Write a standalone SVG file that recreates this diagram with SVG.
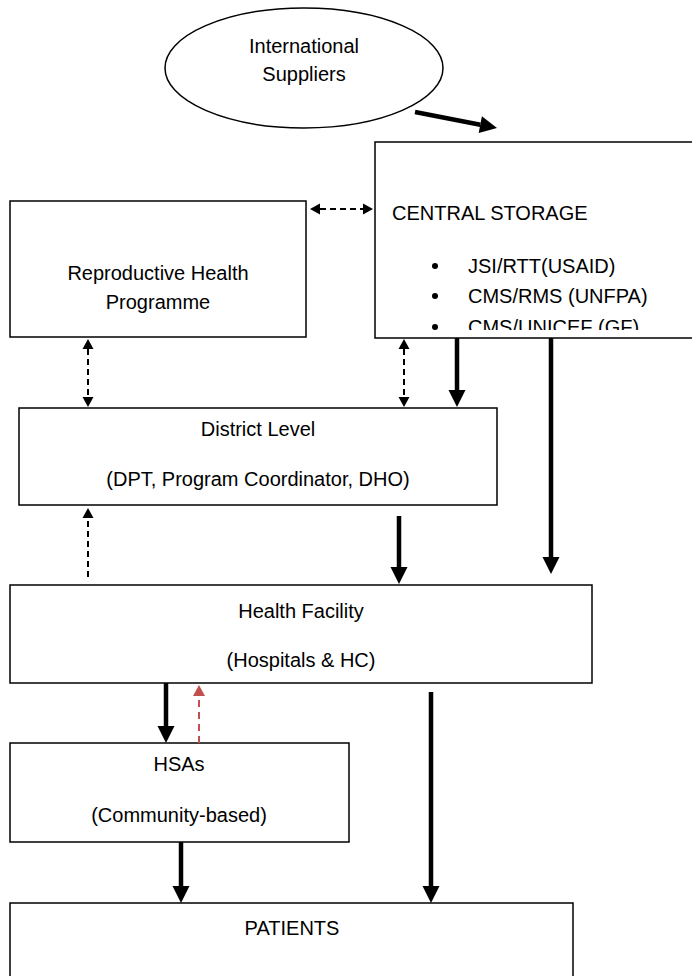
<svg xmlns="http://www.w3.org/2000/svg" width="692" height="976" viewBox="0 0 692 976">
  <style>
    .box { fill: #ffffff; stroke: #000000; stroke-width: 1.5; }
    .lbl { font-family: "Liberation Sans", Arial, sans-serif; font-size: 20px; fill: #000000; text-anchor: middle; }
    .lbl-l { font-family: "Liberation Sans", Arial, sans-serif; font-size: 20px; fill: #000000; }
    .flow { stroke: #000000; stroke-width: 4.5; fill: none; }
    .info { stroke: #000000; stroke-width: 2; stroke-dasharray: 6 4; fill: none; }
    .report { stroke: #c0504d; stroke-width: 2; stroke-dasharray: 7 5; fill: none; }
  </style>
  <defs>
    <!-- arrowheads attach at their base; lines stop where the head begins -->
    <marker id="headSolid" markerUnits="userSpaceOnUse" markerWidth="18" markerHeight="18" refX="0" refY="8.5" orient="auto" overflow="visible">
      <path d="M0,0 L17,8.5 L0,17 Z" fill="#000000"/>
    </marker>
    <marker id="headDash" markerUnits="userSpaceOnUse" markerWidth="11" markerHeight="12" refX="0" refY="5.5" orient="auto-start-reverse" overflow="visible">
      <path d="M0,0 L10,5.5 L0,11 Z" fill="#000000"/>
    </marker>
    <marker id="headRed" markerUnits="userSpaceOnUse" markerWidth="12" markerHeight="13" refX="0" refY="6" orient="auto" overflow="visible">
      <path d="M0,0 L11,6 L0,12 Z" fill="#c0504d"/>
    </marker>
    <clipPath id="storageClip">
      <rect x="375" y="142" width="330" height="188"/>
    </clipPath>
  </defs>

  <!-- nodes -->
  <g id="international-suppliers">
    <ellipse cx="304" cy="68" rx="139" ry="60" fill="#ffffff" stroke="#000000" stroke-width="1.5"/>
    <text class="lbl" x="304" y="53">International</text>
    <text class="lbl" x="304" y="81">Suppliers</text>
  </g>

  <g id="central-storage">
    <rect class="box" x="375" y="142" width="330" height="196"/>
    <text class="lbl-l" x="392" y="220">CENTRAL STORAGE</text>
    <g clip-path="url(#storageClip)">
      <circle cx="435" cy="266" r="3"/>
      <text class="lbl-l" x="468" y="273">JSI/RTT(USAID)</text>
      <circle cx="435" cy="296" r="3"/>
      <text class="lbl-l" x="468" y="303">CMS/RMS (UNFPA)</text>
      <circle cx="435" cy="327" r="3"/>
      <text class="lbl-l" x="468" y="334">CMS/UNICEF (GF)</text>
    </g>
  </g>

  <g id="reproductive-health">
    <rect class="box" x="10" y="201" width="296" height="136"/>
    <text class="lbl" x="158" y="280">Reproductive Health</text>
    <text class="lbl" x="158" y="309">Programme</text>
  </g>

  <g id="district-level">
    <rect class="box" x="19" y="408" width="478" height="97"/>
    <text class="lbl" x="258" y="436">District Level</text>
    <text class="lbl" x="258" y="486">(DPT, Program Coordinator, DHO)</text>
  </g>

  <g id="health-facility">
    <rect class="box" x="10" y="585" width="582" height="98"/>
    <text class="lbl" x="301" y="618">Health Facility</text>
    <text class="lbl" x="301" y="667">(Hospitals &amp; HC)</text>
  </g>

  <g id="hsas">
    <rect class="box" x="10" y="743" width="339" height="99"/>
    <text class="lbl" x="179" y="771">HSAs</text>
    <text class="lbl" x="179" y="822">(Community-based)</text>
  </g>

  <g id="patients">
    <rect class="box" x="10" y="903" width="563" height="90"/>
    <text class="lbl" x="292" y="935">PATIENTS</text>
  </g>

  <!-- connectors -->
  <g id="connectors">
    <!-- commodity flow -->
    <line class="flow" x1="415" y1="112" x2="480.3" y2="124.7" marker-end="url(#headSolid)"/>
    <line class="flow" x1="457" y1="338" x2="457" y2="390" marker-end="url(#headSolid)"/>
    <line class="flow" x1="551" y1="338" x2="551" y2="557" marker-end="url(#headSolid)"/>
    <line class="flow" x1="399" y1="516" x2="399" y2="567" marker-end="url(#headSolid)"/>
    <line class="flow" x1="166" y1="683" x2="166" y2="726" marker-end="url(#headSolid)"/>
    <line class="flow" x1="181" y1="842" x2="181" y2="886" marker-end="url(#headSolid)"/>
    <line class="flow" x1="431" y1="692" x2="431" y2="886" marker-end="url(#headSolid)"/>

    <!-- information exchange -->
    <line class="info" x1="320" y1="209" x2="363" y2="209" marker-start="url(#headDash)" marker-end="url(#headDash)"/>
    <line class="info" x1="88" y1="349" x2="88" y2="397" marker-start="url(#headDash)" marker-end="url(#headDash)"/>
    <line class="info" x1="404" y1="349" x2="404" y2="397" marker-start="url(#headDash)" marker-end="url(#headDash)"/>
    <line class="info" x1="88" y1="577" x2="88" y2="518" marker-end="url(#headDash)"/>

    <!-- reporting -->
    <line class="report" x1="199" y1="743" x2="199" y2="696" marker-end="url(#headRed)"/>
  </g>
</svg>
